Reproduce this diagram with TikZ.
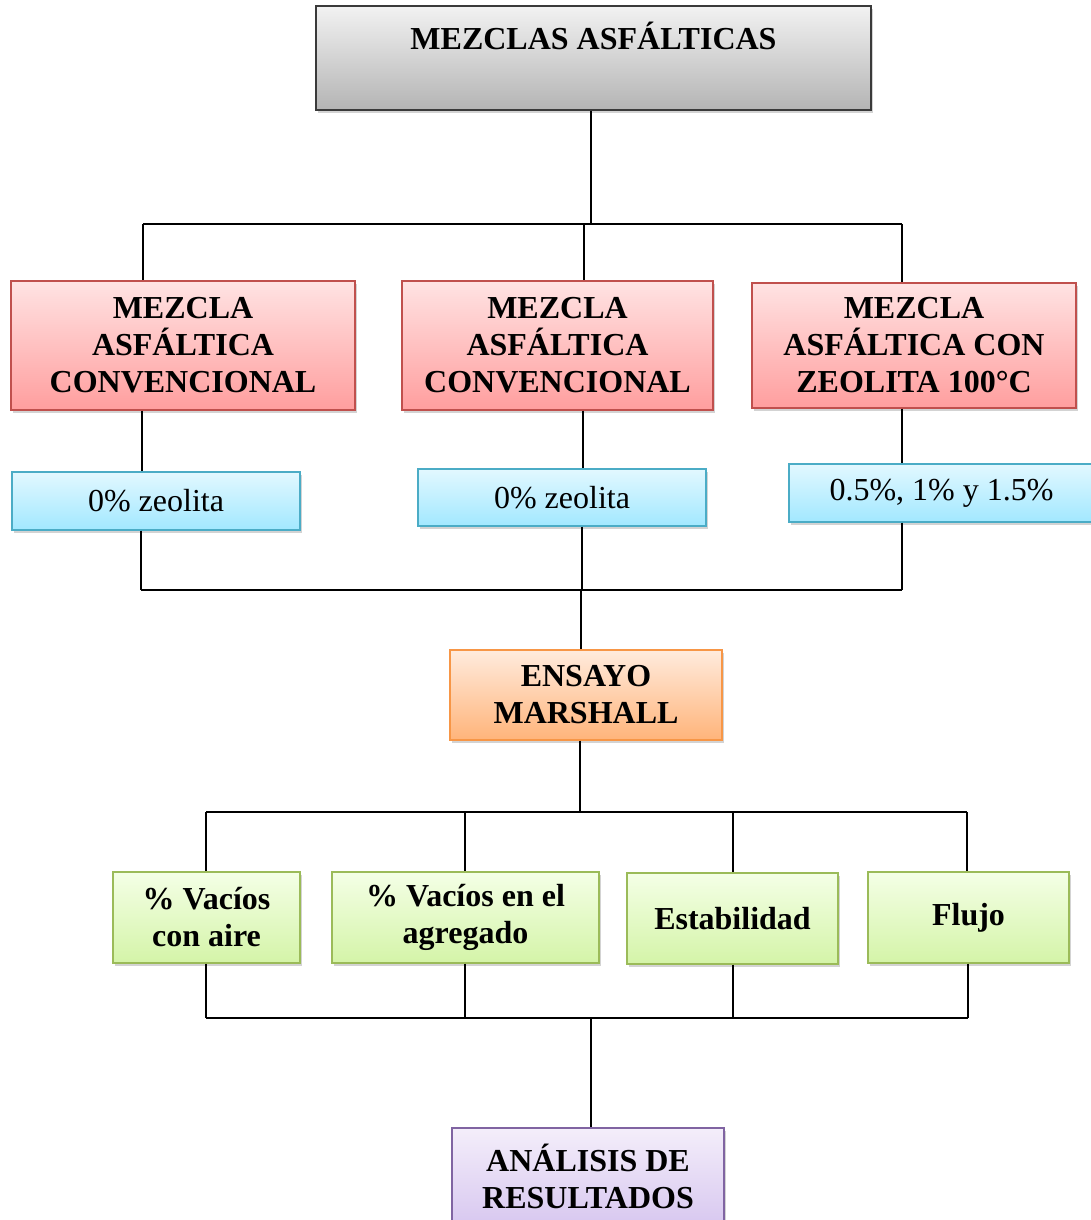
\documentclass[tikz,border=0pt]{standalone}
\usepackage{fontspec}
\setmainfont{Liberation Serif}
\usetikzlibrary{shadows}
\definecolor{grayT}{HTML}{F2F2F2}
\definecolor{grayB}{HTML}{B4B4B4}
\definecolor{grayD}{HTML}{3A3A3A}
\definecolor{redT}{HTML}{FFE3E3}
\definecolor{redB}{HTML}{FF9E9E}
\definecolor{redD}{HTML}{C0504D}
\definecolor{bluT}{HTML}{E2F8FF}
\definecolor{bluB}{HTML}{A2E8FF}
\definecolor{bluD}{HTML}{4BACC6}
\definecolor{oraT}{HTML}{FFEBDD}
\definecolor{oraB}{HTML}{FFB47A}
\definecolor{oraD}{HTML}{F79646}
\definecolor{greT}{HTML}{F4FFE6}
\definecolor{greB}{HTML}{D4F4A8}
\definecolor{greD}{HTML}{9BBB59}
\definecolor{purT}{HTML}{F4EEFA}
\definecolor{purB}{HTML}{D8C8F0}
\definecolor{purD}{HTML}{8064A2}
\tikzset{
  boxbase/.style={draw, line width=1.3pt, inner sep=0pt, align=center,
    drop shadow={shadow xshift=2pt, shadow yshift=-3pt, opacity=0.35},
    font=\bfseries\fontsize{32}{37}\selectfont},
  graybox/.style={boxbase, draw=grayD, top color=grayT, bottom color=grayB},
  redbox/.style={boxbase, draw=redD, top color=redT, bottom color=redB},
  bluebox/.style={boxbase, draw=bluD, top color=bluT, bottom color=bluB, font=\fontsize{32}{37}\selectfont},
  orangebox/.style={boxbase, draw=oraD, top color=oraT, bottom color=oraB},
  greenbox/.style={boxbase, draw=greD, top color=greT, bottom color=greB},
  purplebox/.style={boxbase, draw=purD, top color=purT, bottom color=purB},
  conn/.style={line width=1.6pt, black},
  lbl/.style={inner sep=0pt, font=\bfseries\fontsize{32}{37}\selectfont}
}
\begin{document}
\begin{tikzpicture}[x=1pt,y=-1pt]
\useasboundingbox (0,0) rectangle (1090,1220);
% top
\node[graybox, minimum width=555pt, minimum height=104pt] (top) at (593.5,58) {};
\node[lbl] (toptext) at (593.5,36) {MEZCLAS ASFÁLTICAS};
% red boxes
\node[redbox, minimum width=344pt, minimum height=129pt] (r1) at (183,345.5) {MEZCLA\\ASFÁLTICA\\CONVENCIONAL};
\node[redbox, minimum width=311pt, minimum height=129pt] (r2) at (557.5,345.5) {MEZCLA\\ASFÁLTICA\\CONVENCIONAL};
\node[redbox, minimum width=324pt, minimum height=125pt] (r3) at (914,345.5) {MEZCLA\\ASFÁLTICA CON\\ZEOLITA 100°C};
% blue boxes
\node[bluebox, minimum width=288pt, minimum height=58pt] (b1) at (156,501) {0\% zeolita};
\node[bluebox, minimum width=288pt, minimum height=57pt] (b2) at (562,497.5) {0\% zeolita};
\node[bluebox, minimum width=305pt, minimum height=58pt] (b3) at (941.5,493) {0.5\%, 1\% y 1.5\%};
% orange
\node[orangebox, minimum width=272pt, minimum height=90pt] (ens) at (586,695) {ENSAYO\\MARSHALL};
% green
\node[greenbox, minimum width=187pt, minimum height=91pt] (g1) at (206.5,917.5) {\% Vacíos\\con aire};
\node[greenbox, minimum width=267pt, minimum height=91pt] (g2) at (465.5,917.5) {\% Vacíos en el\\agregado};
\node[greenbox, minimum width=211pt, minimum height=91pt] (g3) at (732.5,918.5) {Estabilidad};
\node[greenbox, minimum width=201pt, minimum height=91pt] (g4) at (968.5,917.5) {Flujo};
% purple
\node[purplebox, minimum width=272pt, minimum height=96pt] (res) at (588,1176) {ANÁLISIS DE\\RESULTADOS};
% bus coordinates
\coordinate (a0) at (591,224);
\coordinate (aL) at (143,224);
\coordinate (aM) at (584,224);
\coordinate (aR) at (902,224);
\coordinate (bL) at (141,590);
\coordinate (bM) at (582,590);
\coordinate (bR) at (902,590);
\coordinate (bO) at (581,590);
\coordinate (c0) at (580,812);
\coordinate (c1) at (206,812);
\coordinate (c2) at (465,812);
\coordinate (c3) at (733,812);
\coordinate (c4) at (967,812);
\coordinate (d1) at (206,1018);
\coordinate (d2) at (465,1018);
\coordinate (d3) at (733,1018);
\coordinate (d4) at (968,1018);
\coordinate (d0) at (591,1018);
\coordinate (x1) at (142,0);
\coordinate (x2) at (583,0);
% connectors
\draw[conn] (top.south -| a0) -- (a0);
\draw[conn] (aL) -- (aR);
\draw[conn] (aL) -- (aL |- r1.north);
\draw[conn] (aM) -- (aM |- r2.north);
\draw[conn] (aR) -- (aR |- r3.north);
\draw[conn] (r1.south -| x1) -- (b1.north -| x1);
\draw[conn] (r2.south -| x2) -- (b2.north -| x2);
\draw[conn] (r3.south -| aR) -- (b3.north -| aR);
\draw[conn] (b1.south -| bL) -- (bL);
\draw[conn] (b2.south -| bM) -- (bM);
\draw[conn] (b3.south -| bR) -- (bR);
\draw[conn] (bL) -- (bR);
\draw[conn] (bO) -- (bO |- ens.north);
\draw[conn] (ens.south -| c0) -- (c0);
\draw[conn] (c1) -- (c4);
\draw[conn] (c1) -- (c1 |- g1.north);
\draw[conn] (c2) -- (c2 |- g2.north);
\draw[conn] (c3) -- (c3 |- g3.north);
\draw[conn] (c4) -- (c4 |- g4.north);
\draw[conn] (g1.south -| d1) -- (d1);
\draw[conn] (g2.south -| d2) -- (d2);
\draw[conn] (g3.south -| d3) -- (d3);
\draw[conn] (g4.south -| d4) -- (d4);
\draw[conn] (d1) -- (d4);
\draw[conn] (d0) -- (d0 |- res.north);
\end{tikzpicture}
\end{document}
